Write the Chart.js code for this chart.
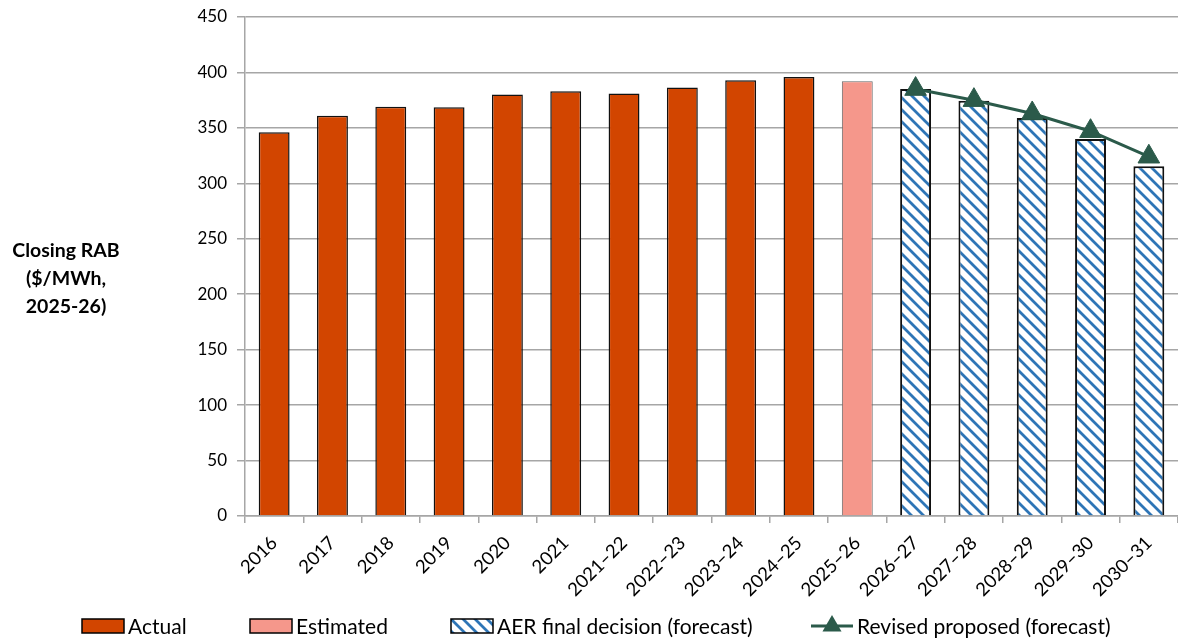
<!DOCTYPE html>
<html>
<head>
<meta charset="utf-8">
<script src="https://cdn.jsdelivr.net/npm/chart.js@4.4.0/dist/chart.umd.min.js"></script>
<style>
  html, body { margin: 0; padding: 0; background: #ffffff; }
  #c { display: block; }
</style>
</head>
<body>
<canvas id="c" width="1178" height="641"></canvas>
<script>
// Closing RAB by year ($/MWh, 2025-26)
const categories = ['2016', '2017', '2018', '2019', '2020', '2021', '2021–22', '2022–23', '2023–24', '2024–25', '2025–26', '2026–27', '2027–28', '2028–29', '2029–30', '2030–31'];
const actual = [346, 361, 369, 368.5, 380, 383, 381, 386.5, 393, 396, null, null, null, null, null, null];
const estimated = [null, null, null, null, null, null, null, null, null, null, 392, null, null, null, null, null];
const aerFinalDecision = [null, null, null, null, null, null, null, null, null, null, null, 385, 374.5, 359, 340, 315.5];
const revisedProposed = [null, null, null, null, null, null, null, null, null, null, null, 385, 375, 363, 347, 324];
const yTicks = [0, 50, 100, 150, 200, 250, 300, 350, 400, 450];
const seriesNames = ['Actual', 'Estimated', 'AER final decision (forecast)', 'Revised proposed (forecast)'];
const yTitleLines = ['Closing RAB', '($/MWh,', '2025-26)'];

const COL_ACTUAL = '#D24500';
const COL_ESTIMATED = '#F5978B';
const COL_HATCH = '#2E75B6';
const COL_LINE = '#2B5A4A';
const COL_GRID = '#A6A6A6';
const FONT = 'Lato, "Open Sans", sans-serif';

// diagonal "\" stripes on white
function makeHatch() {
  const s = 12;
  const t = document.createElement('canvas');
  t.width = s; t.height = s;
  const g = t.getContext('2d');
  g.fillStyle = '#ffffff';
  g.fillRect(0, 0, s, s);
  g.strokeStyle = COL_HATCH;
  g.lineWidth = 2.8;
  g.lineCap = 'square';
  g.beginPath();
  g.moveTo(-s, -s); g.lineTo(2 * s, 2 * s);
  g.moveTo(-s, 0); g.lineTo(s, 2 * s);
  g.moveTo(0, -s); g.lineTo(2 * s, s);
  g.stroke();
  return g.createPattern(t, 'repeat');
}
const hatch = makeHatch();

const yTitlePlugin = {
  id: 'yTitle',
  afterDraw(chart) {
    const ctx = chart.ctx;
    const area = chart.chartArea;
    ctx.save();
    ctx.fillStyle = '#000';
    ctx.font = 'bold 19.5px ' + FONT;
    ctx.textAlign = 'center';
    ctx.textBaseline = 'middle';
    const cy = (area.top + area.bottom) / 2;
    const lh = 28;
    yTitleLines.forEach((t, i) => {
      ctx.fillText(t, 66, cy + (i - 1) * lh + 12);
    });
    ctx.restore();
  }
};

const legendPlugin = {
  id: 'bottomLegend',
  afterDraw(chart) {
    const ctx = chart.ctx;
    const y = 626;
    const xs = [82, 250, 451, 811];
    const bw = 42, bh = 14;
    ctx.save();
    ctx.font = '21px ' + FONT;
    ctx.textBaseline = 'middle';
    ctx.textAlign = 'left';
    chart.data.datasets.forEach((ds, i) => {
      const x = xs[i];
      if (ds.type === 'line') {
        ctx.strokeStyle = ds.borderColor;
        ctx.lineWidth = 3;
        ctx.beginPath();
        ctx.moveTo(x, y); ctx.lineTo(x + bw, y);
        ctx.stroke();
        ctx.fillStyle = ds.pointBackgroundColor;
        ctx.beginPath();
        const r = 11;
        ctx.moveTo(x + bw / 2, y - r);
        ctx.lineTo(x + bw / 2 + r * 0.866, y + r / 2);
        ctx.lineTo(x + bw / 2 - r * 0.866, y + r / 2);
        ctx.closePath();
        ctx.fill();
      } else {
        ctx.fillStyle = ds.backgroundColor;
        ctx.fillRect(x, y - bh / 2, bw, bh);
        ctx.strokeStyle = '#000';
        ctx.lineWidth = 1.5;
        ctx.strokeRect(x, y - bh / 2, bw, bh);
      }
      ctx.fillStyle = '#000';
      ctx.fillText(ds.label, x + bw + 4, y + 1);
    });
    ctx.restore();
  }
};

new Chart(document.getElementById('c'), {
  data: {
    labels: categories,
    datasets: [
      { type: 'bar', label: seriesNames[0], data: actual, backgroundColor: COL_ACTUAL, borderColor: '#111', borderWidth: 1.5, order: 2 },
      { type: 'bar', label: seriesNames[1], data: estimated, backgroundColor: COL_ESTIMATED, borderColor: '#666', borderWidth: 1, order: 2 },
      { type: 'bar', label: seriesNames[2], data: aerFinalDecision, backgroundColor: hatch, borderColor: '#111', borderWidth: 2, order: 2 },
      { type: 'line', label: seriesNames[3], data: revisedProposed, borderColor: COL_LINE, borderWidth: 3,
        pointStyle: 'triangle', pointRadius: 12.5, pointHoverRadius: 12.5, pointBackgroundColor: COL_LINE, pointBorderColor: COL_LINE,
        pointBorderWidth: 1, tension: 0, spanGaps: false, clip: false, order: 0 }
    ]
  },
  options: {
    responsive: false,
    animation: false,
    devicePixelRatio: 1,
    layout: { autoPadding: false, padding: { left: 0, right: 0, top: 17, bottom: 32 } },
    datasets: { bar: { skipNull: true, barPercentage: 0.53, categoryPercentage: 1 } },
    plugins: { legend: { display: false }, tooltip: { enabled: false } },
    scales: {
      x: {
        offset: true,
        grid: { display: true, drawOnChartArea: false, drawTicks: true, tickLength: 7, color: COL_GRID, lineWidth: 1.5 },
        border: { display: true, color: COL_GRID, width: 1.5 },
        ticks: { color: '#000', font: { family: FONT, size: 18.5 }, minRotation: 45, maxRotation: 45, padding: 9 },
        afterFit(scale) { scale.height = 93; scale.paddingRight = 0; scale.paddingLeft = 0; }
      },
      y: {
        min: 0, max: 450,
        afterBuildTicks(scale) { scale.ticks = yTicks.map(v => ({ value: v })); },
        grid: { color: COL_GRID, lineWidth: 1.5, tickLength: 8, drawTicks: true },
        border: { display: true, color: COL_GRID, width: 1.5 },
        ticks: { color: '#000', font: { family: FONT, size: 17 }, padding: 10 },
        afterFit(scale) { scale.width = 245; scale.paddingTop = 0; scale.paddingBottom = 0; }
      }
    }
  },
  plugins: [yTitlePlugin, legendPlugin]
});
</script>
</body>
</html>
